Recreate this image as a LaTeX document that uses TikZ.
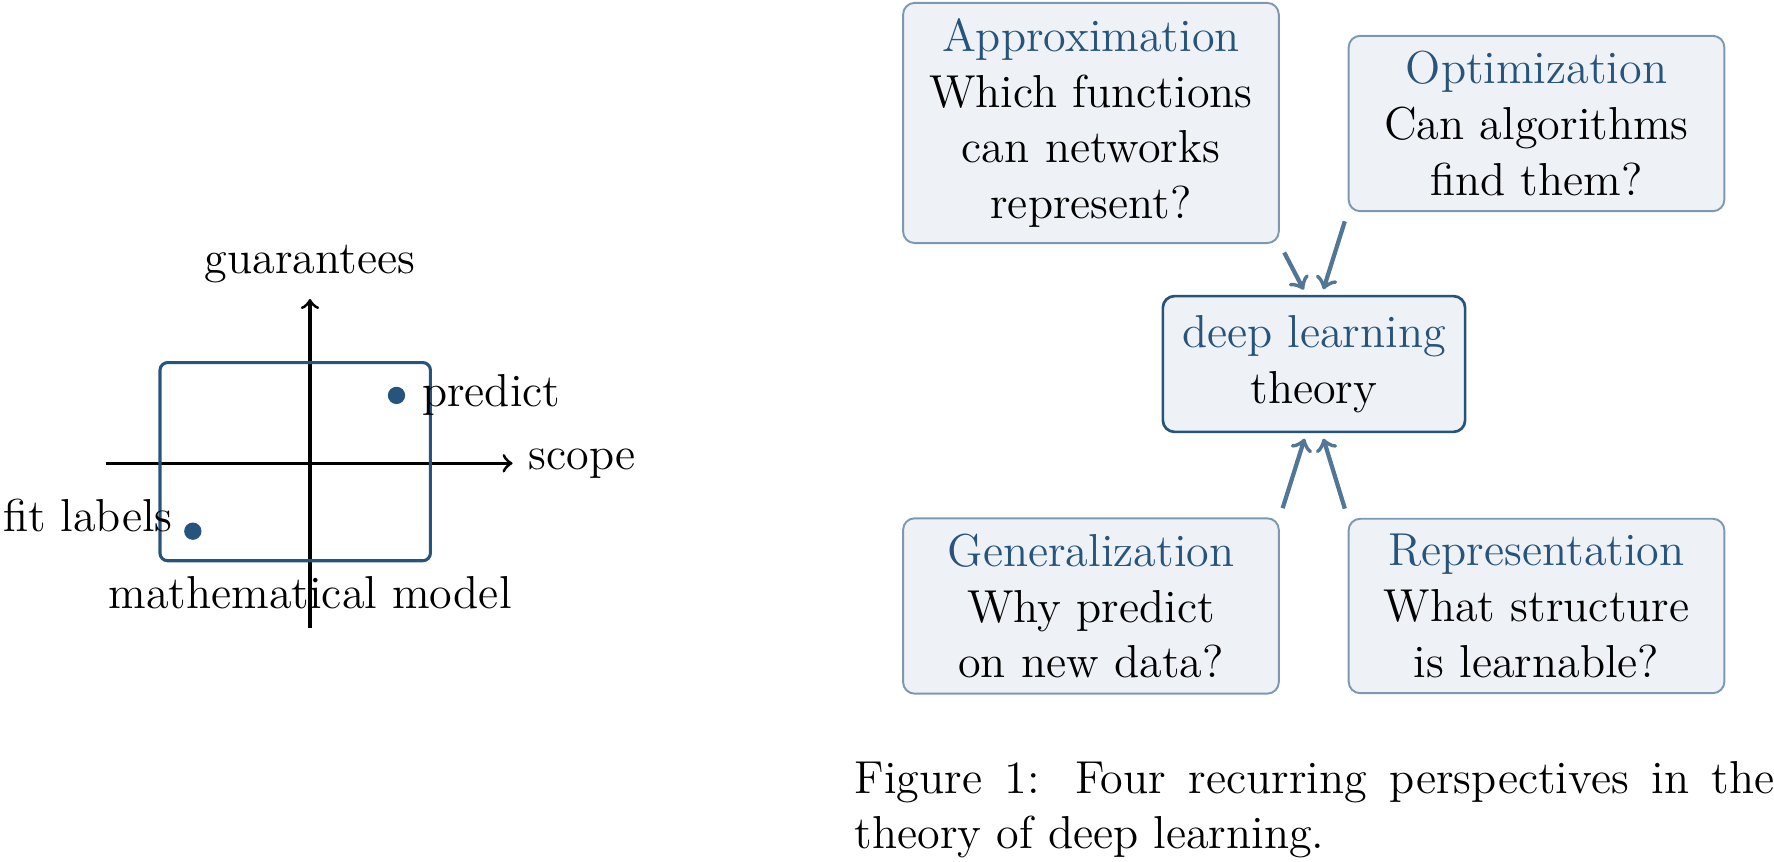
\documentclass[tikz,border=0pt,12pt]{standalone}
\usepackage[rgb]{xcolor}
\usepackage{tikz}
\definecolor{deepblue}{RGB}{38,84,124}

\begin{document}
\begin{tikzpicture}[line join=round,
  dot/.style={circle,fill=deepblue,inner sep=0pt,minimum size=4.5pt},
  topic/.style={draw=deepblue!60,fill=deepblue!8,rounded corners=3pt,line width=.5pt,
    text width=3.15cm,align=center,inner sep=4pt},
  hub/.style={draw=deepblue,fill=deepblue!8,rounded corners=3pt,line width=.7pt,
    align=center,inner sep=5pt},
  feed/.style={arrows=->,line width=1.1pt,deepblue!80,shorten <=2.5pt,shorten >=1.5pt}]
\useasboundingbox (-2.831,-3.632) rectangle (13.37,4.231);
% scope vs guarantees
\coordinate (xl) at (-1.86,0);
\coordinate (xr) at (1.85,0);
\coordinate (yb) at (0,-1.5);
\coordinate (yt) at (0,1.5);
\draw[arrows=->,thick](xl)--(xr);
\draw[arrows=->,thick](yb)--(yt);
\draw[deepblue,thick,rounded corners=2pt](-1.37,-.89) rectangle (1.1,.92);
\node[right] (scope) at (xr) {scope};
\node[above] (guar) at (yt) {guarantees};
\node[below] (model) at (0,-.89) {mathematical model};
\node[dot,label=right:predict] (pred) at (.79,.62) {};
\node[dot] (fit) at (-1.07,-.62) {};
\node[anchor=base east,xshift=-1pt] (fitlab) at (fit) {fit labels};
% four perspectives
\node[hub] (dl) at (9.169,.907) {\textcolor{deepblue}{deep learning}\\theory};
\node[topic] (approx) at (7.132,3.108) {\textcolor{deepblue}{Approximation}\\Which functions\\can networks\\represent?};
\node[topic] (optim) at (11.201,3.103) {\textcolor{deepblue}{Optimization}\\Can algorithms\\find them?};
\node[topic] (gener) at (7.132,-1.303) {\textcolor{deepblue}{Generalization}\\Why predict\\on new data?};
\node[topic] (repr) at (11.201,-1.303) {\textcolor{deepblue}{Representation}\\What structure\\is learnable?};
\draw[feed](approx.south east)--([xshift=-2pt]dl.north);
\draw[feed](optim.south west)--([xshift=2pt]dl.north);
\draw[feed](gener.north east)--([xshift=-2pt]dl.south);
\draw[feed](repr.north west)--([xshift=2pt]dl.south);
\node[anchor=base west,text width=8.4cm,align=justify,inner sep=0pt] (cap) at (4.968,-3.011)
  {Figure~1: Four recurring perspectives in the\linebreak theory of deep learning.};
\end{tikzpicture}
\end{document}
